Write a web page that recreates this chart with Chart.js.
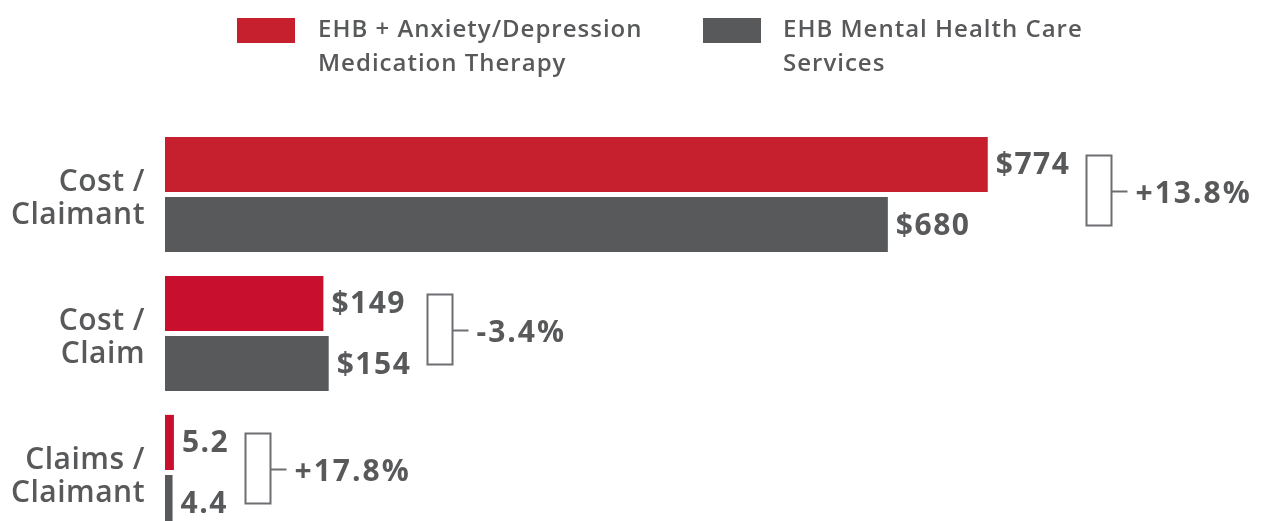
<!DOCTYPE html>
<html><head><meta charset="utf-8">
<script src="https://cdn.jsdelivr.net/npm/chart.js@4"></script>
<style>
html,body{margin:0;padding:0;overflow:hidden;background:#fff;}
canvas{display:block;}
</style></head><body>
<canvas id="c" width="1262" height="548"></canvas>
<script>
const categories = [['Cost /','Claimant'],['Cost /','Claim'],['Claims /','Claimant']];
const seriesNames = [['EHB + Anxiety/Depression','Medication Therapy'],['EHB Mental Health Care','Services']];
const anxietyValues = [774,149,5.2];
const mentalHealthValues = [680,154,4.4];
const valuePrefixes = ['$','$',''];
const valueDecimals = [0,0,1];
const changeLabels = ['+13.8%','-3.4%','+17.8%'];
const smallScaleCategory = [false,false,true];

const REDS = ['#c6202f','#c8102e','#c8102e'];
const GRAY = '#58595b';
const TEXT = '#58595b';
const FONT = '"Open Sans", Lato, sans-serif';

function splitSeries(values, small){
  return values.map((v,i)=> (smallScaleCategory[i]===small) ? v : null);
}
const seriesDefs = [
  {label: seriesNames[0], values: anxietyValues, color: REDS, legendColor: REDS[0], stack: 'a'},
  {label: seriesNames[1], values: mentalHealthValues, color: GRAY, legendColor: GRAY, stack: 'b'}
];
const datasets = [];
seriesDefs.forEach((s,si)=>{
  [false, true].forEach(small=>{
    datasets.push({
      label: s.label, data: splitSeries(s.values, small), backgroundColor: s.color,
      stack: s.stack, xAxisID: small ? 'x2' : 'x', seriesIndex: si,
      barPercentage: 0.917, categoryPercentage: 0.865, borderWidth: 0
    });
  });
});

const annotPlugin = {
  id: 'annot',
  beforeDraw(chart){
    chart.ctx.letterSpacing = '0.5px';
  },
  afterDatasetsDraw(chart){
    const ctx = chart.ctx;
    ctx.save();
    const valueFont = '700 30px ' + FONT;
    const groups = categories.map(()=>({}));
    chart.data.datasets.forEach((ds, di)=>{
      const meta = chart.getDatasetMeta(di);
      meta.data.forEach((el, i)=>{
        const v = ds.data[i];
        if (v === null || v === undefined) return;
        const txt = valuePrefixes[i] + v.toFixed(valueDecimals[i]);
        ctx.font = valueFont;
        ctx.letterSpacing = '1.5px';
        ctx.fillStyle = TEXT;
        ctx.textAlign = 'left';
        ctx.textBaseline = 'alphabetic';
        const tx = el.x + 8;
        ctx.fillText(txt, tx, el.y + 10);
        const w = ctx.measureText(txt).width;
        groups[i][ds.seriesIndex] = {y: el.y, end: tx + w};
      });
    });
    groups.forEach((g, i)=>{
      if (!g[0] || !g[1]) return;
      const bx = Math.round(Math.max(g[0].end, g[1].end) + 16) + 0.5;
      const top = Math.round(g[0].y - 9) + 0.5;
      const bot = Math.round(g[1].y + 0) + 0.5;
      const mid = Math.round((top + bot) / 2) + 0.5;
      ctx.strokeStyle = '#6d6e71';
      ctx.lineWidth = 2;
      ctx.strokeRect(bx, top, 25, bot - top);
      ctx.beginPath();
      ctx.moveTo(bx + 25, mid);
      ctx.lineTo(bx + 41, mid);
      ctx.stroke();
      ctx.font = valueFont;
      ctx.letterSpacing = '2px';
      ctx.fillStyle = TEXT;
      ctx.textAlign = 'left';
      ctx.textBaseline = 'alphabetic';
      ctx.fillText(changeLabels[i], bx + 49, mid + 11);
    });
    ctx.restore();
  },
  afterDraw(chart){
    const ctx = chart.ctx;
    ctx.save();
    const pos = [{bx: 237, tx: 318}, {bx: 703, tx: 783}];
    seriesDefs.forEach((s, si)=>{
      ctx.fillStyle = s.legendColor;
      ctx.fillRect(pos[si].bx, 18, 58, 25);
      ctx.font = '600 24px ' + FONT;
      ctx.letterSpacing = '1px';
      ctx.fillStyle = TEXT;
      ctx.textAlign = 'left';
      ctx.textBaseline = 'alphabetic';
      s.label.forEach((line, li)=>{
        ctx.fillText(line, pos[si].tx, 37 + li * 34);
      });
    });
    ctx.restore();
  }
};

new Chart(document.getElementById('c'), {
  type: 'bar',
  data: {labels: categories, datasets: datasets},
  options: {
    indexAxis: 'y',
    responsive: false,
    animation: false,
    layout: {padding: {top: 125, bottom: 6, right: 34, left: 0}},
    plugins: {legend: {display: false}, tooltip: {enabled: false}},
    scales: {
      y: {
        grid: {display: false, drawTicks: false},
        border: {display: false},
        afterFit(s){ s.width = 165; s.paddingTop = 0; s.paddingBottom = 0; },
        ticks: {padding: 20, labelOffset: 4, color: TEXT, font: {family: FONT, size: 30, weight: '600', lineHeight: 1.1}}
      },
      x: {display: false, stacked: false, min: 0, max: 1000},
      x2: {display: false, stacked: false, min: 0, max: 620}
    }
  },
  plugins: [annotPlugin]
});
</script>
</body></html>
